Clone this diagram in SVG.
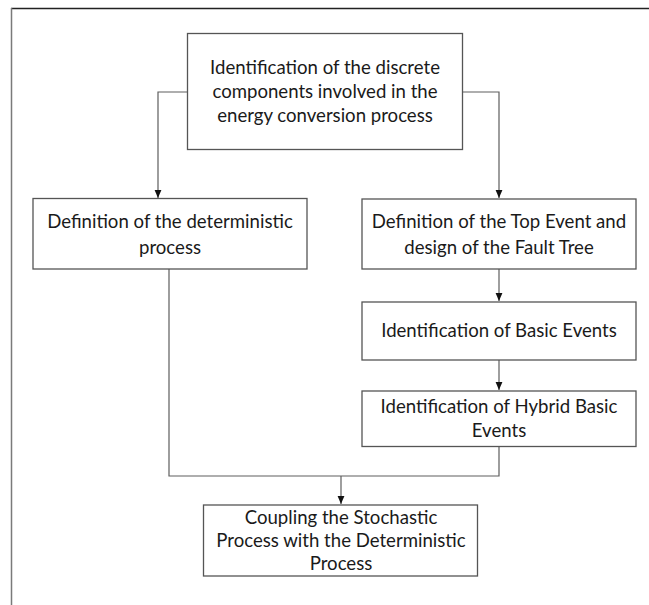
<svg xmlns="http://www.w3.org/2000/svg" width="649" height="605" viewBox="0 0 649 605">
  <style>
    .box { fill: #ffffff; stroke: #555555; stroke-width: 1.3; }
    .lbl { font-family: Lato, "Open Sans", sans-serif; font-size: 18.6px; fill: #1a1a1a; text-anchor: middle; }
    .wire { fill: none; stroke: #5e5e5e; stroke-width: 1.2; }
    .frame-top { stroke: #222222; stroke-width: 1.5; }
    .frame-left { stroke: #7a7a7a; stroke-width: 1.5; }
  </style>
  <defs>
    <marker id="arrow" viewBox="0 0 8 8" refX="8" refY="4" markerWidth="8" markerHeight="8" markerUnits="userSpaceOnUse" orient="auto">
      <path d="M0,0.6 L8,4 L0,7.4 Z" fill="#111111"/>
    </marker>
  </defs>

  <!-- outer frame -->
  <line class="frame-top" x1="11" y1="8.5" x2="649" y2="8.5"/>
  <line class="frame-left" x1="11.5" y1="8" x2="11.5" y2="605"/>

  <g id="connectors">
    <path class="wire" d="M187,92 H158 V198" marker-end="url(#arrow)"/>
    <path class="wire" d="M462,92 H499 V198" marker-end="url(#arrow)"/>
    <path class="wire" d="M499,269 V301" marker-end="url(#arrow)"/>
    <path class="wire" d="M499,360 V390" marker-end="url(#arrow)"/>
    <path class="wire" d="M169,269 V476 H499 V446"/>
    <path class="wire" d="M341,476 V504" marker-end="url(#arrow)"/>
  </g>

  <g id="identify-components">
    <rect class="box" x="187.5" y="33.5" width="275" height="116"/>
    <text class="lbl" x="325" y="74">Identification of the discrete</text>
    <text class="lbl" x="325" y="98">components involved in the</text>
    <text class="lbl" x="325" y="122">energy conversion process</text>
  </g>

  <g id="deterministic-process">
    <rect class="box" x="33" y="198.5" width="274" height="70.5"/>
    <text class="lbl" x="170" y="228">Definition of the deterministic</text>
    <text class="lbl" x="170" y="254">process</text>
  </g>

  <g id="top-event">
    <rect class="box" x="362" y="199" width="274" height="70"/>
    <text class="lbl" x="499" y="228">Definition of the Top Event and</text>
    <text class="lbl" x="499" y="254">design of the Fault Tree</text>
  </g>

  <g id="basic-events">
    <rect class="box" x="362" y="302" width="274" height="58"/>
    <text class="lbl" x="499" y="337">Identification of Basic Events</text>
  </g>

  <g id="hybrid-basic-events">
    <rect class="box" x="362" y="391" width="274" height="55.5"/>
    <text class="lbl" x="499" y="413">Identification of Hybrid Basic</text>
    <text class="lbl" x="499" y="437">Events</text>
  </g>

  <g id="coupling">
    <rect class="box" x="203.5" y="505" width="274" height="71"/>
    <text class="lbl" x="341" y="524">Coupling the Stochastic</text>
    <text class="lbl" x="341" y="547">Process with the Deterministic</text>
    <text class="lbl" x="341" y="570">Process</text>
  </g>
</svg>
